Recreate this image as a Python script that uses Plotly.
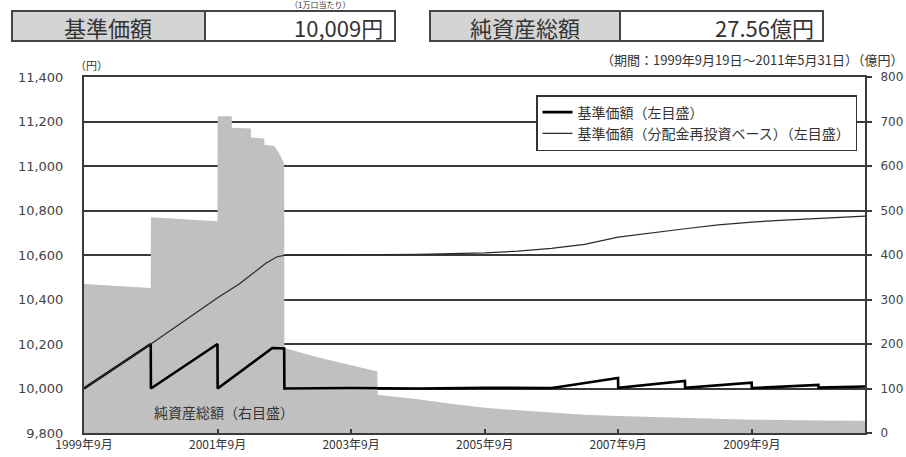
import plotly.graph_objects as go

# ---------------- data ----------------
asset_dates = ["1999-09-19", "2000-09-18", "2000-09-19", "2001-09-18", "2001-09-19",
               "2001-12-05", "2001-12-06", "2002-03-20", "2002-03-21", "2002-06-01",
               "2002-06-02", "2002-07-25", "2002-08-20", "2002-09-10", "2002-09-18",
               "2002-09-19", "2003-03-19", "2003-09-19", "2004-02-10", "2004-02-11",
               "2004-09-19", "2005-03-19", "2005-09-19", "2006-03-19", "2006-09-19",
               "2007-03-19", "2007-09-19", "2008-09-19", "2009-09-19", "2010-09-19",
               "2011-05-31"]
net_assets = [335, 326, 485, 476, 712,
              712, 686, 684, 664, 662,
              648, 645, 630, 610, 605,
              191, 170, 152, 138, 86,
              76, 66, 57, 51, 46,
              41, 38, 34, 30, 28,
              27.56]

nav_dates = ["1999-09-19", "2000-09-18", "2000-09-19", "2001-09-18", "2001-09-19",
             "2002-07-15", "2002-09-18", "2002-09-19", "2003-09-19", "2004-09-19",
             "2005-09-19", "2006-09-19", "2006-10-19", "2007-09-18", "2007-09-19",
             "2008-09-18", "2008-09-19", "2009-09-18", "2009-09-19", "2010-09-18",
             "2010-09-19", "2011-05-31"]
nav = [10000, 10200, 10000, 10200, 10000,
       10182, 10180, 10000, 10002, 10000,
       10003, 10002, 10006, 10047, 10003,
       10034, 10003, 10026, 10002, 10016,
       10004, 10009]

reinv_dates = ["1999-09-19", "2000-09-19", "2001-09-19", "2002-01-15", "2002-06-10",
               "2002-08-10", "2002-09-19", "2003-09-19", "2004-09-19", "2005-09-19",
               "2006-03-19", "2006-09-19", "2007-03-19", "2007-09-19", "2008-03-19",
               "2008-09-19", "2009-03-19", "2009-09-19", "2010-03-19", "2010-09-19",
               "2011-05-31"]
reinv = [10000, 10200, 10408, 10470, 10563,
         10592, 10598, 10600, 10603, 10610,
         10617, 10630, 10648, 10680, 10700,
         10718, 10735, 10748, 10757, 10765,
         10775]

x_tickvals = ["1999-09-19", "2001-09-19", "2003-09-19", "2005-09-19", "2007-09-19", "2009-09-19"]
x_ticktext = ["1999年9月", "2001年9月", "2003年9月", "2005年9月", "2007年9月", "2009年9月"]
left_ticks = [9800, 10000, 10200, 10400, 10600, 10800, 11000, 11200, 11400]
left_ticktext = ["9,800", "10,000", "10,200", "10,400", "10,600", "10,800", "11,000", "11,200", "11,400"]
right_ticks = [0, 100, 200, 300, 400, 500, 600, 700, 800]

nav_name = "基準価額（左目盛）"
reinv_name = "基準価額（分配金再投資ベース）（左目盛）"
asset_label = "純資産総額（右目盛）"
header_nav_label = "基準価額"
header_nav_value = "10,009円"
header_asset_label = "純資産総額"
header_asset_value = "27.56億円"
unit_note = "（1万口当たり）"
period_note = "（期間：1999年9月19日～2011年5月31日）（億円）"
yen_note = "（円）"

# ---------------- figure ----------------
JP = "Noto Sans CJK JP"
W, H = 906, 457
L, R, T, B = 84, 865, 77, 433

def px(xp):
    return (xp - L) / (R - L)

def py(yp):
    return (B - yp) / (B - T)

fig = go.Figure()
fig.add_trace(go.Scatter(x=asset_dates, y=net_assets, mode="lines", fill="tozeroy",
                         fillcolor="#c0c0c0", line=dict(color="#c0c0c0", width=0),
                         showlegend=False, yaxis="y", hoverinfo="skip"))
fig.add_trace(go.Scatter(x=nav_dates, y=nav, mode="lines", name=nav_name,
                         line=dict(color="#000000", width=2.6), yaxis="y2"))
fig.add_trace(go.Scatter(x=reinv_dates, y=reinv, mode="lines", name=reinv_name,
                         line=dict(color="#2a2a2a", width=1.2), yaxis="y2"))

axis_col = "#3a3a3a"
fig.update_layout(
    width=W, height=H, autosize=False,
    margin=dict(l=L, r=W - R, t=T, b=H - B, pad=0, autoexpand=False),
    paper_bgcolor="white", plot_bgcolor="white",
    font=dict(family=JP, color="#333333"),
    showlegend=True,
    legend=dict(x=px(857), y=py(95), xanchor="right", yanchor="top",
                bgcolor="white", bordercolor="#333333", borderwidth=1.5,
                font=dict(size=14, family=JP, color="#333333"),
                tracegroupgap=0, itemwidth=30),
    xaxis=dict(type="date", range=["1999-09-19", "2011-05-31"], automargin=False,
               tickvals=x_tickvals, ticktext=x_ticktext,
               ticks="inside", ticklen=4, tickcolor=axis_col, tickwidth=2,
               ticklabelstandoff=0,
               showgrid=False, zeroline=False,
               showline=True, linecolor=axis_col, linewidth=2, mirror=True,
               tickfont=dict(size=12, family=JP, color="#333333")),
    yaxis=dict(side="right", range=[0, 800], tickvals=right_ticks, automargin=False,
               showgrid=True, gridcolor=axis_col, gridwidth=2,
               zeroline=False, showline=True, linecolor=axis_col, linewidth=2,
               ticks="outside", ticklen=5, tickcolor=axis_col, tickwidth=1.5,
               ticklabelstandoff=6,
               tickfont=dict(size=12, family="DejaVu Sans", color="#444444")),
    yaxis2=dict(side="left", overlaying="y", range=[9800, 11400], automargin=False,
                tickvals=left_ticks, ticktext=left_ticktext,
                showgrid=False, zeroline=False,
                showline=True, linecolor=axis_col, linewidth=2,
                ticks="outside", ticklen=16, tickcolor="rgba(0,0,0,0)",
                tickfont=dict(size=13, family="DejaVu Sans", color="#444444")),
)

# header tables
shapes = []
def box(x0, x1, x2, y0, y1):
    shapes.append(dict(type="rect", xref="paper", yref="paper",
                       x0=px(x0), x1=px(x1), y0=py(y1), y1=py(y0),
                       fillcolor="#d4d4d4", line=dict(width=0)))
    shapes.append(dict(type="rect", xref="paper", yref="paper",
                       x0=px(x0), x1=px(x2), y0=py(y1), y1=py(y0),
                       fillcolor="rgba(0,0,0,0)", line=dict(color="#444444", width=2)))
    shapes.append(dict(type="line", xref="paper", yref="paper",
                       x0=px(x1), x1=px(x1), y0=py(y1), y1=py(y0),
                       line=dict(color="#444444", width=2)))

box(12, 205, 395, 11, 41)
box(430, 620, 823, 11, 41)
fig.update_layout(shapes=shapes)

ann = []
def text(t, xp, yp, size, xanchor="center", color="#333333", family=JP):
    ann.append(dict(text=t, x=px(xp), y=py(yp), xref="paper", yref="paper",
                    xanchor=xanchor, yanchor="middle", showarrow=False, borderpad=0,
                    font=dict(size=size, family=family, color=color)))

text(header_nav_label, 108, 27, 22)
text(header_nav_value, 384, 27, 22, xanchor="right")
text(header_asset_label, 525, 27, 22)
text(header_asset_value, 815, 27, 22, xanchor="right")
text(unit_note, 320, 5, 8)
text(period_note, 905, 59, 13, xanchor="right")
text(yen_note, 74, 65, 11, xanchor="left")
text(asset_label, 224, 412, 14)
fig.update_layout(annotations=ann)

fig.write_html("out.html", config={"displayModeBar": False},
               post_script="document.body.style.margin='0';")
